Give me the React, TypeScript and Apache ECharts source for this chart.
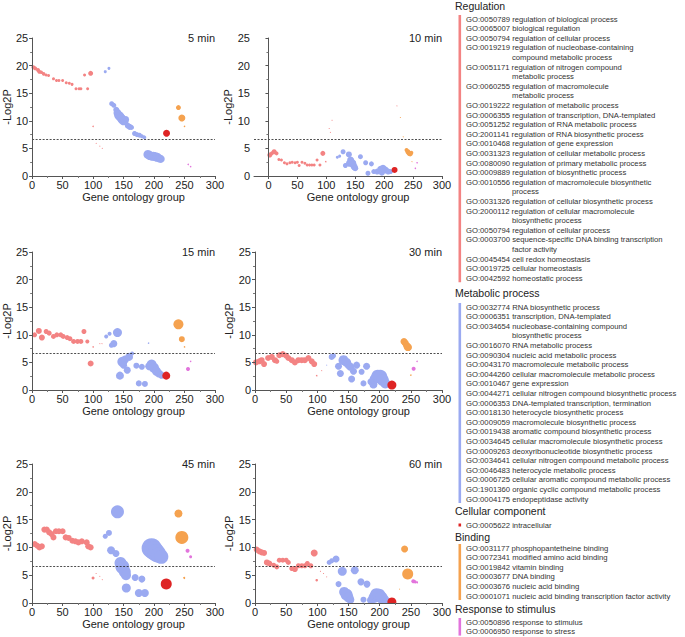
import React, { useEffect, useRef } from "react";
import * as echarts from "echarts";

// ---------------- DATA ----------------
const panelTitles = ["5 min", "10 min", "15 min", "30 min", "45 min", "60 min"];
const xTickValues = [0, 50, 100, 150, 200, 250, 300];
const threshold = 6.64;

const categoryNames = ["Regulation", "Metabolic process", "Cellular component", "Binding", "Response to stimulus"];
const categoryColors = ["#F38383", "#9BAAF1", "#DE2424", "#F5A24F", "#E274DC"];

// [GO group, -Log2P, bubble size]
const reg05 = [[2,19.7,4],[5,19.5,4],[9.6,19.2,4],[11.7,18.9,4],[15,18.8,3.5],[19,18.5,3.5],[23,18.3,3],[27,18.2,3],[35,17.6,3],[40,17.3,3],[44,17.3,3],[50,17.3,3],[56,16.9,3],[61,16.8,3],[65.5,16.6,3],[72,15.8,3],[77,15.8,3],[80,15.8,3],[86,18.3,3],[91,15.8,3],[96,18.6,5],[100,9,1.5],[105,5.9,1],[111,5.4,1],[115,5.0,1]];
const met05 = [[120,18.9,3],[126,19.5,3],[130.5,13.1,5],[134,12.8,5],[138,12,6],[140,11.4,8],[142,11,9],[144,10.8,9],[146,10.5,9],[148,10.2,9],[150,10,9],[152,10,8],[154,10.3,6],[157,9.1,6],[160,8.9,6],[163,8.8,5],[168,7.7,5],[172,7.5,5],[176,7.4,5],[180,7.2,4],[184,7,4],[190,3.9,9],[193,3.7,9],[196,3.6,9],[199,3.6,9],[202,3.5,9],[205,3.4,9],[208,3.2,8],[211,3.1,8]];
const cc05 = [[220.5,7.75,7]];
const bind05 = [[240,12.4,5],[245.6,10.5,7],[250,9,1.5]];
const resp05 = [[256,2.1,1.5],[260,1.7,1.5]];

const reg10 = [[2.3,3.8,5],[5.7,4.1,4],[9.8,4.4,5],[14,4.1,4],[18,3.0,3],[22.4,2.9,3],[27.6,2.4,3],[32,2.2,3],[37,2.4,3],[41,2.5,3],[46,2.4,3],[50,2.5,3],[53,1.9,3],[58,2.5,3],[63,2.3,3],[67,2.0,3],[71,2.0,3],[75,2.0,3],[79,2.0,3],[84,2.9,3],[89,2.0,3],[94,4.1,5],[99,2.6,1.5],[105,8.6,1],[110,10.1,1],[107,7.9,1],[222,12.7,1]];
const met10 = [[119,3.4,3],[123,3.6,3],[129,4.4,5],[139,3.9,6],[133,1.9,5],[140,2.3,7],[142,2.9,7],[145,2.3,8],[148,1.7,7],[150,1.4,6],[159,3.5,5],[168,2.4,5],[178,2.2,5],[172,0.5,5],[182,0.8,5],[188,0.8,6],[194,1.2,7],[196,0.6,6],[198,1.4,7],[202,1.1,7],[207,0.8,6],[211,0.8,5]];
const cc10 = [[218,1.1,6]];
const bind10 = [[238.7,4.7,4],[241,4.4,5],[243,4.1,5],[245,4.0,5],[247,4.2,4],[248,2.6,1],[228,10.6,1],[233,7.1,1]];
const resp10 = [[254,1.4,1.5],[257,2.4,1.5]];

const reg15 = [[4,10.0,5],[11,10.7,6],[16,9.5,6],[23,10.6,5],[28,10.3,5],[35,9.7,5],[40.5,10.0,5],[47,10.0,5],[51,9.7,5],[57.5,9.5,5],[62,9.3,5],[68,8.8,5],[74.5,8.8,5],[80,8.8,5],[85,10.6,5],[90.5,8.8,4],[96,4.8,6],[100,7.8,1.5],[111,8.4,1],[114.5,8.4,1]];
const met15 = [[121.5,9.7,4],[127,10.2,4],[140,10.4,9],[130,8.1,5],[134,8.4,7],[148,5.1,10],[152,5.5,8],[159,6.0,8],[164,6.6,4],[156,3.6,7],[150,4.5,7],[144,2.6,8],[171,4.4,6],[180,4.2,6],[175,1.2,6],[185,1.1,6],[191,8.5,1.5],[192,4.3,8],[196,4.6,10],[200,4.0,10],[204,3.4,9],[208,3.0,8],[212,2.7,7]];
const cc15 = [[220,2.6,8]];
const bind15 = [[240,11.9,10],[245.6,9.2,6],[250,7.8,1.5]];
const resp15 = [[260,5.2,1.5],[255.7,3.8,4]];

const reg30 = [[1.6,5.0,6],[7,5.2,6],[10.7,5.4,6],[14.5,4.7,6],[21,5.8,6],[27,6.0,6],[32,5.4,6],[35,5.2,5],[39,6.3,6],[44.5,6.5,6],[50,6.2,6],[53.5,5.8,6],[59,5.4,6],[64,5.0,6],[69.6,5.4,6],[75,5.4,6],[80,5.4,6],[85.7,5.8,6],[91,5.2,6],[95,4.7,6],[99,2.6,1.5],[107,3.5,1]];
const met30 = [[115,4.5,1],[123,6.0,6],[126,6.2,5],[134,4.3,7],[137,3.0,7],[142,5.4,10],[147,5.0,9],[150,4.5,8],[153,4.2,8],[155,2.0,7],[158,3.4,7],[163,4.5,7],[171,3.3,6],[179,4.3,7],[174,1.2,6],[186,1.5,7],[190,1.0,8],[192,2.0,10],[197,2.5,13],[201,2.4,14],[205,1.8,12],[209,1.2,10]];
const cc30 = [[219.6,0.9,9]];
const bind30 = [[239,8.8,7],[241,8.5,7],[243,8.1,7],[245,7.8,8],[246,7.7,7],[250,2.7,1.5]];
const resp30 = [[260,5.2,1.5],[254.5,3.85,4]];

const reg45 = [[4.3,10.6,6],[8.5,10.3,6],[12,10.0,6],[16,10.2,6],[20,13.2,6],[24,13.2,6],[28,12.7,6],[32,12.4,6],[35,11.8,6],[39,12.9,6],[44,12.9,6],[50,12.9,6],[55,11.8,6],[60,11.7,6],[66,11.2,6],[71,11.1,6],[76,10.9,6],[81.5,11.1,6],[89.5,10.9,6],[92,10.2,6],[96,10.0,6],[100,4.5,3],[105,5.3,1],[111,4.8,1],[115,4.2,1]];
const met45 = [[120,12.0,5],[126,12.6,6],[129.5,9.5,8],[137.5,8.9,7],[140,16.4,13],[145,7.2,12],[148,6.5,14],[152,5.6,12],[154,5.0,10],[154.5,2.7,9],[169,4.6,7],[180,4.3,7],[175,1.8,8],[185,1.8,8],[196,9.85,20],[200,9.4,19],[204,9.0,18],[208,8.6,16],[212,8.3,14]];
const cc45 = [[220,3.4,11]];
const bind45 = [[240,16.1,8],[245.6,11.8,13],[249.5,4.5,2]];
const resp45 = [[255,9.4,4],[260,8.3,3]];

const reg60 = [[2.7,9.6,6],[7,9.3,6],[10.7,9.1,6],[14.5,9.0,6],[19,7.3,6],[23,7.1,6],[30,6.8,5],[35,6.5,5],[39,7.7,5],[44.5,7.7,5],[50,7.7,5],[53.5,7.3,5],[59,6.2,5],[64,6.1,6],[69.6,6.7,5],[75,6.7,5],[80,6.7,5],[84,7.1,5],[89.5,6.7,5],[95,9.0,7],[99,4.1,2.5],[105,5.7,1],[110,5.3,1],[115,4.7,1]];
const met60 = [[119,7.3,5],[123,7.6,5],[130,7.9,7],[140,5.7,9],[160,5.9,8],[134,3.4,6],[143,2.0,10],[147,1.5,12],[150,1.0,10],[153,0.6,8],[170,3.8,7],[179.6,3.4,7],[174,0.6,6],[186,0.5,8],[191,1.0,11],[195,1.5,13],[199,1.4,13],[203,1.0,12],[207,0.6,10],[211,0.3,8]];
const cc60 = [[219.6,0.2,9]];
const bind60 = [[240,9.7,7],[245,5.2,11],[232,2.5,1]];
const resp60 = [[254,3.9,4],[257,3.8,3],[260,3.7,2]];

const regulationTerms = [
  ["GO:0050789", "regulation of biological process"],
  ["GO:0065007", "biological regulation"],
  ["GO:0050794", "regulation of cellular process"],
  ["GO:0019219", "regulation of nucleobase-containing\ncompound metabolic process"],
  ["GO:0051171", "regulation of nitrogen compound\nmetabolic process"],
  ["GO:0060255", "regulation of macromolecule\nmetabolic process"],
  ["GO:0019222", "regulation of metabolic process"],
  ["GO:0006355", "regulation of transcription, DNA-templated"],
  ["GO:0051252", "regulation of RNA metabolic process"],
  ["GO:2001141", "regulation of RNA biosynthetic process"],
  ["GO:0010468", "regulation of gene expression"],
  ["GO:0031323", "regulation of cellular metabolic process"],
  ["GO:0080090", "regulation of primary metabolic process"],
  ["GO:0009889", "regulation of biosynthetic process"],
  ["GO:0010556", "regulation of macromolecule biosynthetic\nprocess"],
  ["GO:0031326", "regulation of cellular biosynthetic process"],
  ["GO:2000112", "regulation of cellular macromolecule\nbiosynthetic process"],
  ["GO:0050794", "regulation of cellular process"],
  ["GO:0003700", "sequence-specific DNA binding transcription\nfactor activity"],
  ["GO:0045454", "cell redox homeostasis"],
  ["GO:0019725", "cellular homeostasis"],
  ["GO:0042592", "homeostatic process"],
];
const metabolicTerms = [
  ["GO:0032774", "RNA biosynthetic process"],
  ["GO:0006351", "transcription, DNA-templated"],
  ["GO:0034654", "nucleobase-containing compound\nbiosynthetic process"],
  ["GO:0016070", "RNA metabolic process"],
  ["GO:0090304", "nucleic acid metabolic process"],
  ["GO:0043170", "macromolecule metabolic process"],
  ["GO:0044260", "cellular macromolecule metabolic process"],
  ["GO:0010467", "gene expression"],
  ["GO:0044271", "cellular nitrogen compound biosynthetic process"],
  ["GO:0006353", "DNA-templated transcription, termination"],
  ["GO:0018130", "heterocycle biosynthetic process"],
  ["GO:0009059", "macromolecule biosynthetic process"],
  ["GO:0019438", "aromatic compound biosynthetic process"],
  ["GO:0034645", "cellular macromolecule biosynthetic process"],
  ["GO:0009263", "deoxyribonucleotide biosynthetic process"],
  ["GO:0034641", "cellular nitrogen compound metabolic process"],
  ["GO:0046483", "heterocycle metabolic process"],
  ["GO:0006725", "cellular aromatic compound metabolic process"],
  ["GO:1901360", "organic cyclic compound metabolic process"],
  ["GO:0004175", "endopeptidase activity"],
];
const cellularTerms = [["GO:0005622", "intracellular"]];
const bindingTerms = [
  ["GO:0031177", "phosphopantetheine binding"],
  ["GO:0072341", "modified amino acid binding"],
  ["GO:0019842", "vitamin binding"],
  ["GO:0003677", "DNA binding"],
  ["GO:0003676", "nucleic acid binding"],
  ["GO:0001071", "nucleic acid binding transcription factor activity"],
];
const responseTerms = [
  ["GO:0050896", "response to stimulus"],
  ["GO:0006950", "response to stress"],
];

// ---------------- LAYOUT ----------------
const FONT = "'Liberation Sans', Arial, sans-serif";
const panels = [
  [reg05, met05, cc05, bind05, resp05],
  [reg10, met10, cc10, bind10, resp10],
  [reg15, met15, cc15, bind15, resp15],
  [reg30, met30, cc30, bind30, resp30],
  [reg45, met45, cc45, bind45, resp45],
  [reg60, met60, cc60, bind60, resp60],
];
const gridBoxes = [
  { left: 27, top: 38, width: 188, height: 138, xMin: 0 },
  { left: 254, top: 38, width: 188, height: 138, xMin: -25 },
  { left: 27, top: 252, width: 188, height: 138, xMin: 0 },
  { left: 255, top: 252, width: 187, height: 138, xMin: 0 },
  { left: 27, top: 464, width: 188, height: 139, xMin: 0 },
  { left: 255, top: 464, width: 187, height: 139, xMin: 0 },
];
const legendSections = [
  { terms: regulationTerms, titleY: 6, firstY: 19 },
  { terms: metabolicTerms, titleY: 293, firstY: 307 },
  { terms: cellularTerms, titleY: 511, firstY: 525 },
  { terms: bindingTerms, titleY: 537, firstY: 548 },
  { terms: responseTerms, titleY: 609, firstY: 622 },
];
const LINE_H = 9.6;
const ITEM_FONT = 7.7;

function buildGraphics() {
  const els: any[] = [];
  const txt = (x: number, y: number, s: string) => ({
    type: "text", x, y, silent: true,
    style: { text: s, fontSize: ITEM_FONT, fill: "#333", fontFamily: FONT, verticalAlign: "middle" },
  });
  legendSections.forEach((sec, si) => {
    els.push({
      type: "text", left: 455, top: sec.titleY - 6, silent: true,
      style: { text: categoryNames[si], fontSize: 10.5, fill: "#222", fontFamily: FONT },
    });
    let line = 0;
    sec.terms.forEach((t) => {
      const parts = t[1].split("\n");
      els.push(txt(466, sec.firstY + line * LINE_H, t[0] + " " + parts[0]));
      for (let k = 1; k < parts.length; k++) {
        els.push(txt(512, sec.firstY + (line + k) * LINE_H, parts[k]));
      }
      line += parts.length;
    });
    const lastY = sec.firstY + (line - 1) * LINE_H;
    const single = line === 1;
    els.push({
      type: "rect", silent: true,
      shape: single
        ? { x: 458.5, y: sec.firstY - 1.5, width: 2.6, height: 3 }
        : { x: 458.5, y: sec.firstY - 4, width: 2.6, height: lastY - sec.firstY + 8 },
      style: { fill: categoryColors[si] },
    });
  });
  // white masks under each plot area so bubbles are cut at the x axis
  gridBoxes.forEach((g) => {
    els.push({
      type: "rect", silent: true, z: 15,
      shape: { x: g.left - 2, y: g.top + g.height + 0.5, width: g.width + 4, height: 9 },
      style: { fill: "#fff" },
    });
  });
  return els;
}

function buildOption() {
  const grid: any[] = [];
  const xAxis: any[] = [];
  const yAxis: any[] = [];
  const title: any[] = [];
  const series: any[] = [];
  gridBoxes.forEach((g, p) => {
    grid.push({ left: g.left, top: g.top, width: g.width, height: g.height, containLabel: false });
    title.push({
      text: panelTitles[p], right: 685 - (g.left + g.width), top: g.top - 6, padding: 0,
      textStyle: { fontSize: 11, fontWeight: "normal", color: "#222", fontFamily: FONT },
    });
    const custom = g.xMin !== 0;
    xAxis.push({
      type: "value", gridIndex: p, min: g.xMin, max: 300, z: 20,
      ...(custom ? {} : { interval: 50 }),
      name: "Gene ontology group", nameLocation: "middle", nameGap: 15,
      nameTextStyle: { fontSize: 11, color: "#222", fontFamily: FONT, padding: [0, 0, 0, 20] },
      axisLine: { show: true, lineStyle: { color: "#555", width: 1 } },
      axisTick: { show: true, length: 3, lineStyle: { color: "#555" }, ...(custom ? { customValues: xTickValues } : {}) },
      minorTick: { show: !custom, splitNumber: 2, length: 2, lineStyle: { color: "#777" } },
      axisLabel: { fontSize: 11, color: "#222", margin: 3, fontFamily: FONT, ...(custom ? { customValues: xTickValues } : {}) },
      splitLine: { show: false },
    });
    yAxis.push({
      type: "value", gridIndex: p, min: 0, max: 25, interval: 5, z: 20,
      name: "-Log2P", nameLocation: "middle", nameGap: 10, nameRotate: 90,
      nameTextStyle: { fontSize: 11, color: "#222", fontFamily: FONT },
      axisLine: { show: true, lineStyle: { color: "#555", width: 1 } },
      axisTick: { show: true, length: 3, lineStyle: { color: "#555" } },
      minorTick: { show: true, splitNumber: 2, length: 2, lineStyle: { color: "#777" } },
      axisLabel: { fontSize: 11, color: "#222", margin: 4, fontFamily: FONT },
      splitLine: { show: false },
    });
    panels[p].forEach((pts, c) => {
      const s: any = {
        type: "scatter", name: categoryNames[c], xAxisIndex: p, yAxisIndex: p,
        data: pts, symbolSize: (v: number[]) => v[2], clip: false, silent: true,
        itemStyle: { color: categoryColors[c], opacity: 1 }, z: 2 + c,
      };
      if (c === 4) {
        s.z = 10;
        s.markLine = {
          silent: true, symbol: "none", label: { show: false }, animation: false,
          lineStyle: { type: [2, 1.5], color: "#222", width: 0.8 },
          data: [{ yAxis: threshold }],
        };
      }
      series.push(s);
    });
  });
  return {
    animation: false,
    textStyle: { fontFamily: FONT },
    title, grid, xAxis, yAxis, series,
    graphic: buildGraphics(),
  };
}

export default function App() {
  const ref = useRef<HTMLDivElement>(null);
  useEffect(() => {
    if (!ref.current) return;
    const chart = echarts.init(ref.current, null, { renderer: "svg" });
    chart.setOption(buildOption() as any);
    return () => chart.dispose();
  }, []);
  return (
    <div
      ref={ref}
      style={{ position: "absolute", left: 0, top: 0, width: 685, height: 637, background: "#fff" }}
    />
  );
}
